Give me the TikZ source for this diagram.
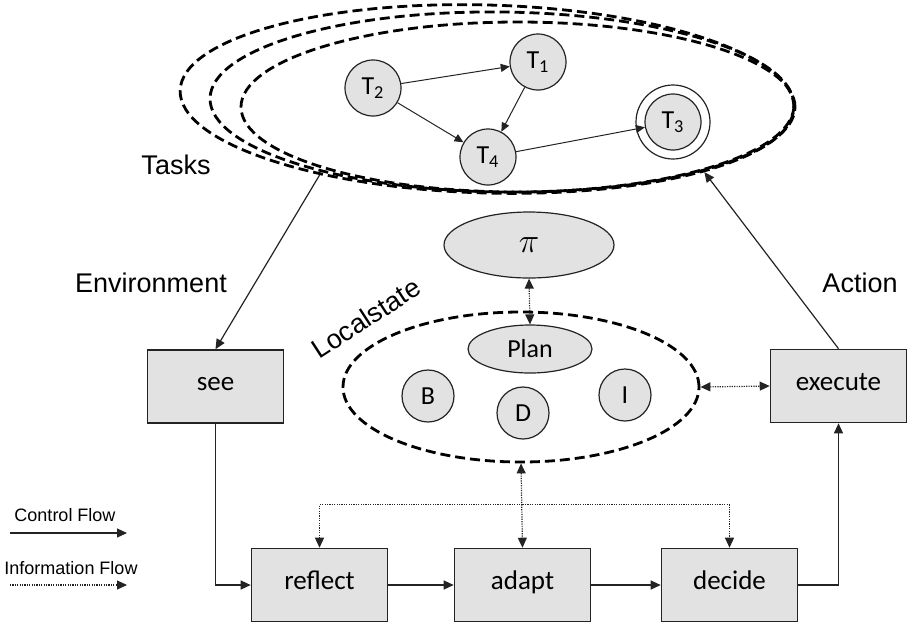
\documentclass[tikz,border=0pt]{standalone}
\usepackage{fontspec}
\setmainfont{Carlito}
\newfontfamily\labelfont{Liberation Sans}
\usepackage{tikz}
\usetikzlibrary{arrows.meta, positioning, calc, shapes.geometric}
\definecolor{boxgray}{RGB}{226,226,226}
\definecolor{linegray}{RGB}{35,35,35}
\tikzset{
  boxgray/.style={draw=linegray, fill=boxgray},
}

\begin{document}
\begin{tikzpicture}[
  x=0.5pt,y=-0.5pt,
  stage/.style={
    rectangle, boxgray, line width=0.8pt,
    minimum width=68pt, minimum height=36.5pt,
    text height=0.6em, text depth=0.16em,
    font=\fontsize{13.5}{16}\selectfont
  },
  task/.style={
    circle, boxgray, line width=0.6pt, inner sep=0pt,
    minimum size=28pt, font=\fontsize{13}{15}\selectfont
  },
  ring/.style={circle, draw=linegray, line width=0.6pt, inner sep=0pt, minimum size=37pt},
  bdi/.style={
    circle, boxgray, line width=0.6pt, inner sep=0pt,
    minimum size=26pt, font=\fontsize{13}{15}\selectfont
  },
  oval/.style={ellipse, boxgray, line width=0.6pt, inner sep=0pt},
  bound/.style={ellipse, draw=black, line width=1.4pt, dash pattern=on 5pt off 2.5pt, inner sep=0pt},
  arrow/.style={-{Triangle[length=5pt,width=4.5pt]}, line width=0.6pt, draw=linegray},
  tarrow/.style={-{Triangle[length=4.5pt,width=4pt]}, line width=0.5pt, draw=linegray},
  info/.style={line width=0.6pt, dash pattern=on 0.6pt off 0.6pt, draw=linegray},
  tip/.style={-{Triangle[length=5pt,width=4.5pt]}},
  both/.style={{Triangle[length=5pt,width=4.5pt]}-{Triangle[length=5pt,width=4.5pt]}},
  note/.style={font=\labelfont\fontsize{13.5}{16}\selectfont},
  legend/.style={font=\labelfont\fontsize{9}{11}\selectfont}
]
\useasboundingbox (0,0) rectangle (908,622);

% ---- Task set (three stacked boundaries) ----
\node[bound, minimum width=307pt, minimum height=94pt, rotate=-1.6] (tasksA) at (487,99) {};
\node[bound, minimum width=292pt, minimum height=90pt, rotate=-0.7] (tasksB) at (502,102) {};
\node[bound, minimum width=277pt, minimum height=85pt] (tasksC) at (518,107) {};
\node[note] (tasks) at (176,165) {Tasks};

\node[task] (t2) at (373,88)  {T\textsubscript{2}};
\node[task] (t1) at (538,62)  {T\textsubscript{1}};
\node[task] (t4) at (488,157) {T\textsubscript{4}};
\node[task] (t3) at (673,122) {T\textsubscript{3}};
\node[ring] (t3ring) at (t3) {};

\draw[tarrow] (t2) -- (t1);
\draw[tarrow] (t2) -- (t4);
\draw[tarrow] (t1) -- (t4);
\draw[tarrow] (t4) -- (t3);

% ---- Outer stages ----
\node[stage] (see)     at (215.5,386.5) {see};
\node[stage] (execute) at (838.5,386)   {execute};
\node[note] (env) at (151,283) {Environment};
\node[note] (act) at (860,283) {Action};

\draw[arrow] (tasksA.206) -- (see.north);
\draw[arrow] (execute.north) -- (tasksA.343);

% ---- Local state ----
\node[bound, minimum width=178pt, minimum height=75pt] (local) at (521,387) {};
\node[note, rotate=33, inner sep=0pt] (localtxt) at (366,318) {Localstate};
\node[oval, minimum width=85pt, minimum height=33pt, font=\fontsize{16}{18}\selectfont] (pi) at (529,245) {$\pi$};
\node[oval, minimum width=62pt, minimum height=24pt, font=\fontsize{13}{15}\selectfont] (plan) at (530,349) {Plan};
\node[bdi] (b) at (428,396) {B};
\node[bdi] (d) at (523,413) {D};
\node[bdi] (i) at (625,395) {I};

\draw[info, both] (pi.south) -- (plan.north);
\draw[info, both] (local.east) -- (execute.west);

% ---- Inner cycle ----
\node[stage] (reflect) at (319.5,585) {reflect};
\node[stage] (adapt)   at (522.5,585) {adapt};
\node[stage] (decide)  at (729.5,585) {decide};

\draw[arrow] (see.south) |- (reflect.west);
\draw[arrow] (reflect) -- (adapt);
\draw[arrow] (adapt) -- (decide);
\draw[arrow] (decide.east) -| (execute.south);

\coordinate (hub) at ($(adapt.north)+(0,-43)$);
\draw[info, both] (local.south) -- (adapt.north);
\draw[info, tip] (hub) -| (reflect.north);
\draw[info, tip] (hub) -| (decide.north);

% ---- Legend ----
\node[legend] (ctrltxt) at (65,515) {Control Flow};
\coordinate (ctrlA) at (10,533);
\coordinate (ctrlB) at (127,533);
\draw[arrow] (ctrlA) -- (ctrlB);
\node[legend] (infotxt) at (71,568) {Information Flow};
\coordinate (infoA) at (10,585);
\coordinate (infoB) at (127,585);
\draw[info, tip] (infoA) -- (infoB);

\end{tikzpicture}
\end{document}
